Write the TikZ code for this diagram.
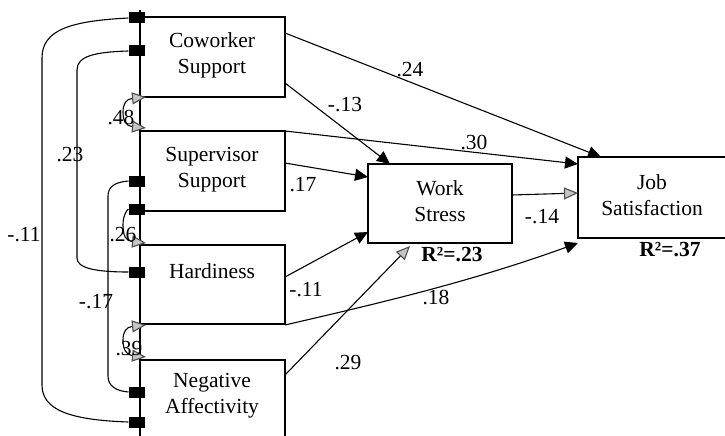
\documentclass[tikz,border=0pt]{standalone}
\usepackage{fontspec}
\setmainfont{Liberation Serif}
\usetikzlibrary{arrows.meta}
\begin{document}
\begin{tikzpicture}[x=1pt,y=-1pt,line width=1.1pt,
  lbl/.style={font=\fontsize{21.5}{26}\selectfont,inner sep=0pt,align=center},
  blksq/.style={fill=black,draw=none,minimum width=16pt,minimum height=11pt,inner sep=0pt},
  blkarr/.style={-{Triangle[length=13pt,width=12pt]}},
  hatone/.style={-{Triangle[length=14pt,width=12pt,fill=gray!45,color=gray!60!black]}},
  hatboth/.style={{Triangle[length=14pt,width=12pt,fill=gray!45,color=gray!60!black]}-{Triangle[length=14pt,width=12pt,fill=gray!45,color=gray!60!black]}}]
\useasboundingbox (0,0) rectangle (725,436);

% left spine and boxes
\draw (140,10) -- (140,436);
\draw (140,17) rectangle (285,97);
\draw (140,131) rectangle (285,211);
\draw (140,245) rectangle (285,324);
\draw (140,360) -- (285,360) -- (285,436);
\draw (368,164) rectangle (512,243);
\draw (725,157) -- (578,157) -- (578,238) -- (725,238);

% box texts
\node[lbl] (cw) at (212,55) {Coworker\\Support};
\node[lbl] (sv) at (212,170) {Supervisor\\Support};
\node[lbl] (hd) at (212,271) {Hardiness};
\node[lbl] (na) at (212,396) {Negative\\Affectivity};
\node[lbl] (ws) at (440,201) {Work\\Stress};
\node[lbl] (js) at (652,195) {Job\\Satisfaction};

% anchor coordinates
\coordinate (cwA) at (285,33);
\coordinate (cwB) at (285,83);
\coordinate (svA) at (285,131);
\coordinate (svB) at (285,163);
\coordinate (hdA) at (285,277);
\coordinate (hdB) at (285,325);
\coordinate (naA) at (285,375);
\coordinate (wsT) at (390,164);
\coordinate (wsL1) at (368,177);
\coordinate (wsL2) at (368,232);
\coordinate (wsB) at (410,246);
\coordinate (wsR) at (512,195);
\coordinate (jsT) at (601,157);
\coordinate (jsL1) at (578,164);
\coordinate (jsL2) at (578,193);
\coordinate (jsL3) at (578,243);

% structural paths
\draw[blkarr] (cwA) -- (jsT);
\draw[blkarr] (cwB) -- (wsT);
\draw[blkarr] (svA) -- (jsL1);
\draw[blkarr] (svB) -- (wsL1);
\draw[blkarr] (hdA) -- (wsL2);
\draw[blkarr] (hdB) .. controls (380,303) and (470,282) .. (jsL3);
\draw[hatone] (naA) -- (wsB);
\draw[hatone] (wsR) -- (jsL2);

% covariance markers (black)
\node[blksq] (m1) at (137,18) {};
\node[blksq] (m2) at (137,51) {};
\node[blksq] (m3) at (137,181) {};
\node[blksq] (m4) at (137,209) {};
\node[blksq] (m5) at (137,272) {};
\node[blksq] (m6) at (137,392) {};
\node[blksq] (m7) at (137,422) {};

% covariance curves
\draw (m1.west) .. controls (70,21) and (42,30) .. (42,58) -- (42,385) .. controls (42,410) and (70,420) .. (m7.west);
\draw (m2.west) .. controls (95,52) and (77,56) .. (77,70) -- (77,258) .. controls (77,268) and (95,272) .. (m5.west);
\draw (m3.west) .. controls (116,182) and (108,186) .. (108,196) -- (108,376) .. controls (108,386) and (116,391) .. (m6.west);
\coordinate (hA) at (146,97);
\coordinate (hB) at (146,128);
\coordinate (hC) at (146,243);
\coordinate (hD) at (146,325);
\coordinate (hE) at (146,357);
\draw[hatboth] (hA) .. controls (126,99) and (123,104) .. (123,112) .. controls (123,121) and (126,126) .. (hB);
\draw[hatone] (m4.west) .. controls (126,211) and (123,216) .. (123,225) .. controls (123,236) and (126,241) .. (hC);
\draw[hatboth] (hD) .. controls (126,327) and (123,332) .. (123,340) .. controls (123,349) and (126,355) .. (hE);

% labels
\node[lbl] (l24) at (410,70) {.24};
\node[lbl] (l13) at (345,105) {-.13};
\node[lbl] (l30) at (474,143) {.30};
\node[lbl] (l17) at (303,185) {.17};
\node[lbl] (l11b) at (306,290) {-.11};
\node[lbl] (l18) at (436,297) {.18};
\node[lbl] (l29) at (348,363) {.29};
\node[lbl] (l14) at (542,217) {-.14};
\node[lbl,font=\fontsize{21.5}{26}\selectfont\bfseries] (r23) at (452,255) {R²=.23};
\node[lbl,font=\fontsize{21.5}{26}\selectfont\bfseries] (r37) at (670,250) {R²=.37};
\node[lbl] (l11a) at (24,235) {-.11};
\node[lbl] (l23) at (70,155) {.23};
\node[lbl] (l17b) at (96,302) {-.17};
\node[lbl] (l48) at (121,118) {.48};
\node[lbl] (l26) at (123,235) {.26};
\node[lbl] (l39) at (129,349) {.39};
\end{tikzpicture}
\end{document}
